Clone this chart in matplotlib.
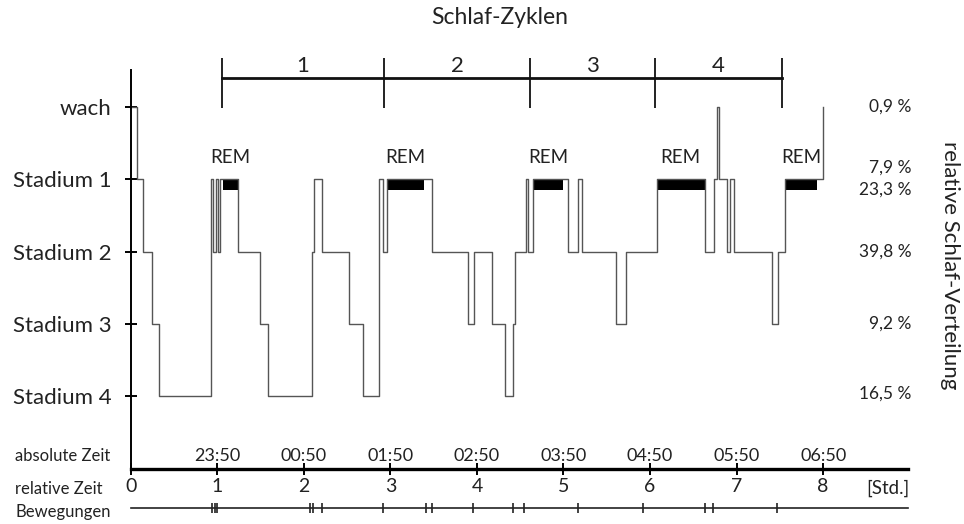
"""
    Hypnogramm : Schlaf-Zyklen einer Nacht
"""

import numpy as np
import matplotlib
matplotlib.use("Agg")
import matplotlib.pyplot as plt

plt.rcParams['font.family'] = ['Lato', 'DejaVu Sans']

# Schlafstadien (0 = wach, 1..4 = Stadium 1..4), Wechselzeitpunkte in Stunden
stufen_namen = ["wach", "Stadium 1", "Stadium 2", "Stadium 3", "Stadium 4"]
zeiten = [0.0, 0.07, 0.14, 0.25, 0.33, 0.93, 0.95, 0.98, 1.01, 1.03, 1.24, 1.49, 1.59,
          2.09, 2.12, 2.21, 2.52, 2.68, 2.87, 2.91, 2.96, 3.48, 3.90, 3.97, 4.17,
          4.32, 4.42, 4.44, 4.57, 4.59, 4.65, 5.05, 5.17, 5.21, 5.61, 5.72, 6.08,
          6.63, 6.74, 6.77, 6.80, 6.89, 6.92, 6.97, 7.41, 7.48, 7.56, 8.00]
stadien = [0, 1, 2, 3, 4, 1, 2, 1, 2, 1, 2, 3, 4,
           2, 1, 2, 3, 4, 1, 2, 1, 2, 3, 2, 3,
           4, 3, 2, 1, 2, 1, 2, 1, 2, 3, 2, 1,
           2, 1, 0, 1, 2, 1, 2, 3, 2, 1, 0]

# REM-Phasen (Beginn, Ende) in Stunden
rem_start = [1.07, 2.96, 4.65, 6.08, 7.56]
rem_ende = [1.24, 3.39, 4.99, 6.63, 7.93]

# Grenzen der Schlaf-Zyklen
zyklus_grenzen = [1.05, 2.93, 4.61, 6.06, 7.52]
zyklus_namen = ["1", "2", "3", "4"]

# relative Schlaf-Verteilung
verteilung = ["0,9 %", "7,9 %", "23,3 %", "39,8 %", "9,2 %", "16,5 %"]
verteilung_y = [0.0, 0.84, 1.15, 2.0, 3.0, 3.97]

# Zeitachsen
rel_stunden = [0, 1, 2, 3, 4, 5, 6, 7, 8]
abs_zeiten = ["23:50", "00:50", "01:50", "02:50", "03:50", "04:50", "05:50", "06:50"]

# Bewegungen (Zeitpunkte in Stunden)
bewegungen = [0.94, 0.97, 1.00, 2.07, 2.11, 2.21, 2.91, 3.41, 3.48, 3.95,
              4.42, 4.54, 5.17, 5.92, 6.63, 6.73, 7.47]

W, H = 964, 524
fig = plt.figure(figsize=(W / 100, H / 100), dpi=100)
ax = fig.add_axes([130.7 / W, 1 - 469 / H, (908 - 130.7) / W, (469 - 70) / H])
ax.set_xlim(0, 8.98)
ax.set_ylim(5.01, -0.512)  # invertiert : wach oben

grau = "#555555"
ax.step(zeiten, stadien, where="post", color=grau, lw=1.0)
ax.bar(rem_start, 0.15, width=np.array(rem_ende) - np.array(rem_start), bottom=1,
       align="edge", color="black", edgecolor="black", lw=0)
for a, e in zip(rem_start, rem_ende):
    ax.text((a + e) / 2, 0.70, "REM", ha="center", va="center", fontsize=13.5, color="#222")

# Achsen
for s in ["top", "right"]:
    ax.spines[s].set_visible(False)
ax.spines["left"].set_linewidth(1.4)
ax.spines["bottom"].set_linewidth(2.4)
ax.set_yticks(range(5))
ax.set_yticklabels(stufen_namen, fontsize=16, color="#222")
ax.tick_params(axis="y", direction="inout", length=8, width=1.4, pad=10)
ax.set_xticks(rel_stunden)
ax.set_xticklabels([str(h) for h in rel_stunden], fontsize=14, color="#222")
ax.tick_params(axis="x", direction="inout", length=9, width=1.4, pad=2)

# absolute Zeit über der Achse
for h, t in zip(rel_stunden[1:], abs_zeiten):
    ax.text(h, 4.83, t, ha="center", va="center", fontsize=13, color="#222")
ax.text(9.0, 5.28, "[Std.]", ha="right", va="center", fontsize=13.5, color="#222", clip_on=False)

# Beschriftung links unten
xl = -1.336
ax.text(xl, 4.83, "absolute Zeit", ha="left", va="center", fontsize=12, color="#222", clip_on=False)
ax.text(xl, 5.28, "relative Zeit", ha="left", va="center", fontsize=12, color="#222", clip_on=False)
ax.text(xl, 5.6, "Bewegungen", ha="left", va="center", fontsize=12, color="#222", clip_on=False)

# Bewegungen
y_bew = 5.55
ax.plot([0, 8.98], [y_bew, y_bew], color="#222", lw=1.2, clip_on=False)
ax.plot(bewegungen, [y_bew] * len(bewegungen), ls="none", marker="|", ms=7, mew=1.2,
        color="#222", clip_on=False)

# Schlaf-Zyklen
ax.plot([zyklus_grenzen[0], zyklus_grenzen[-1]], [-0.40, -0.40], color="#111", lw=2.0, clip_on=False)
ax.vlines(zyklus_grenzen, -0.68, 0.01, color="#111", lw=1.3, clip_on=False)
for i, n in enumerate(zyklus_namen):
    ax.text((zyklus_grenzen[i] + zyklus_grenzen[i + 1]) / 2, -0.57, n,
            ha="center", va="center", fontsize=16, color="#222", clip_on=False)
fig.text(500 / W, 1 - 18 / H, "Schlaf-Zyklen", ha="center", va="center", fontsize=16.5, color="#222")

# relative Schlaf-Verteilung
for t, y in zip(verteilung, verteilung_y):
    ax.text(9.02, y, t, ha="right", va="center", fontsize=12.5, color="#222", clip_on=False)
ax.text(9.46, 2.19, "relative Schlaf-Verteilung", rotation=270, ha="center", va="center",
        fontsize=16, color="#222", clip_on=False)

fig.savefig("out.png", dpi=100)
